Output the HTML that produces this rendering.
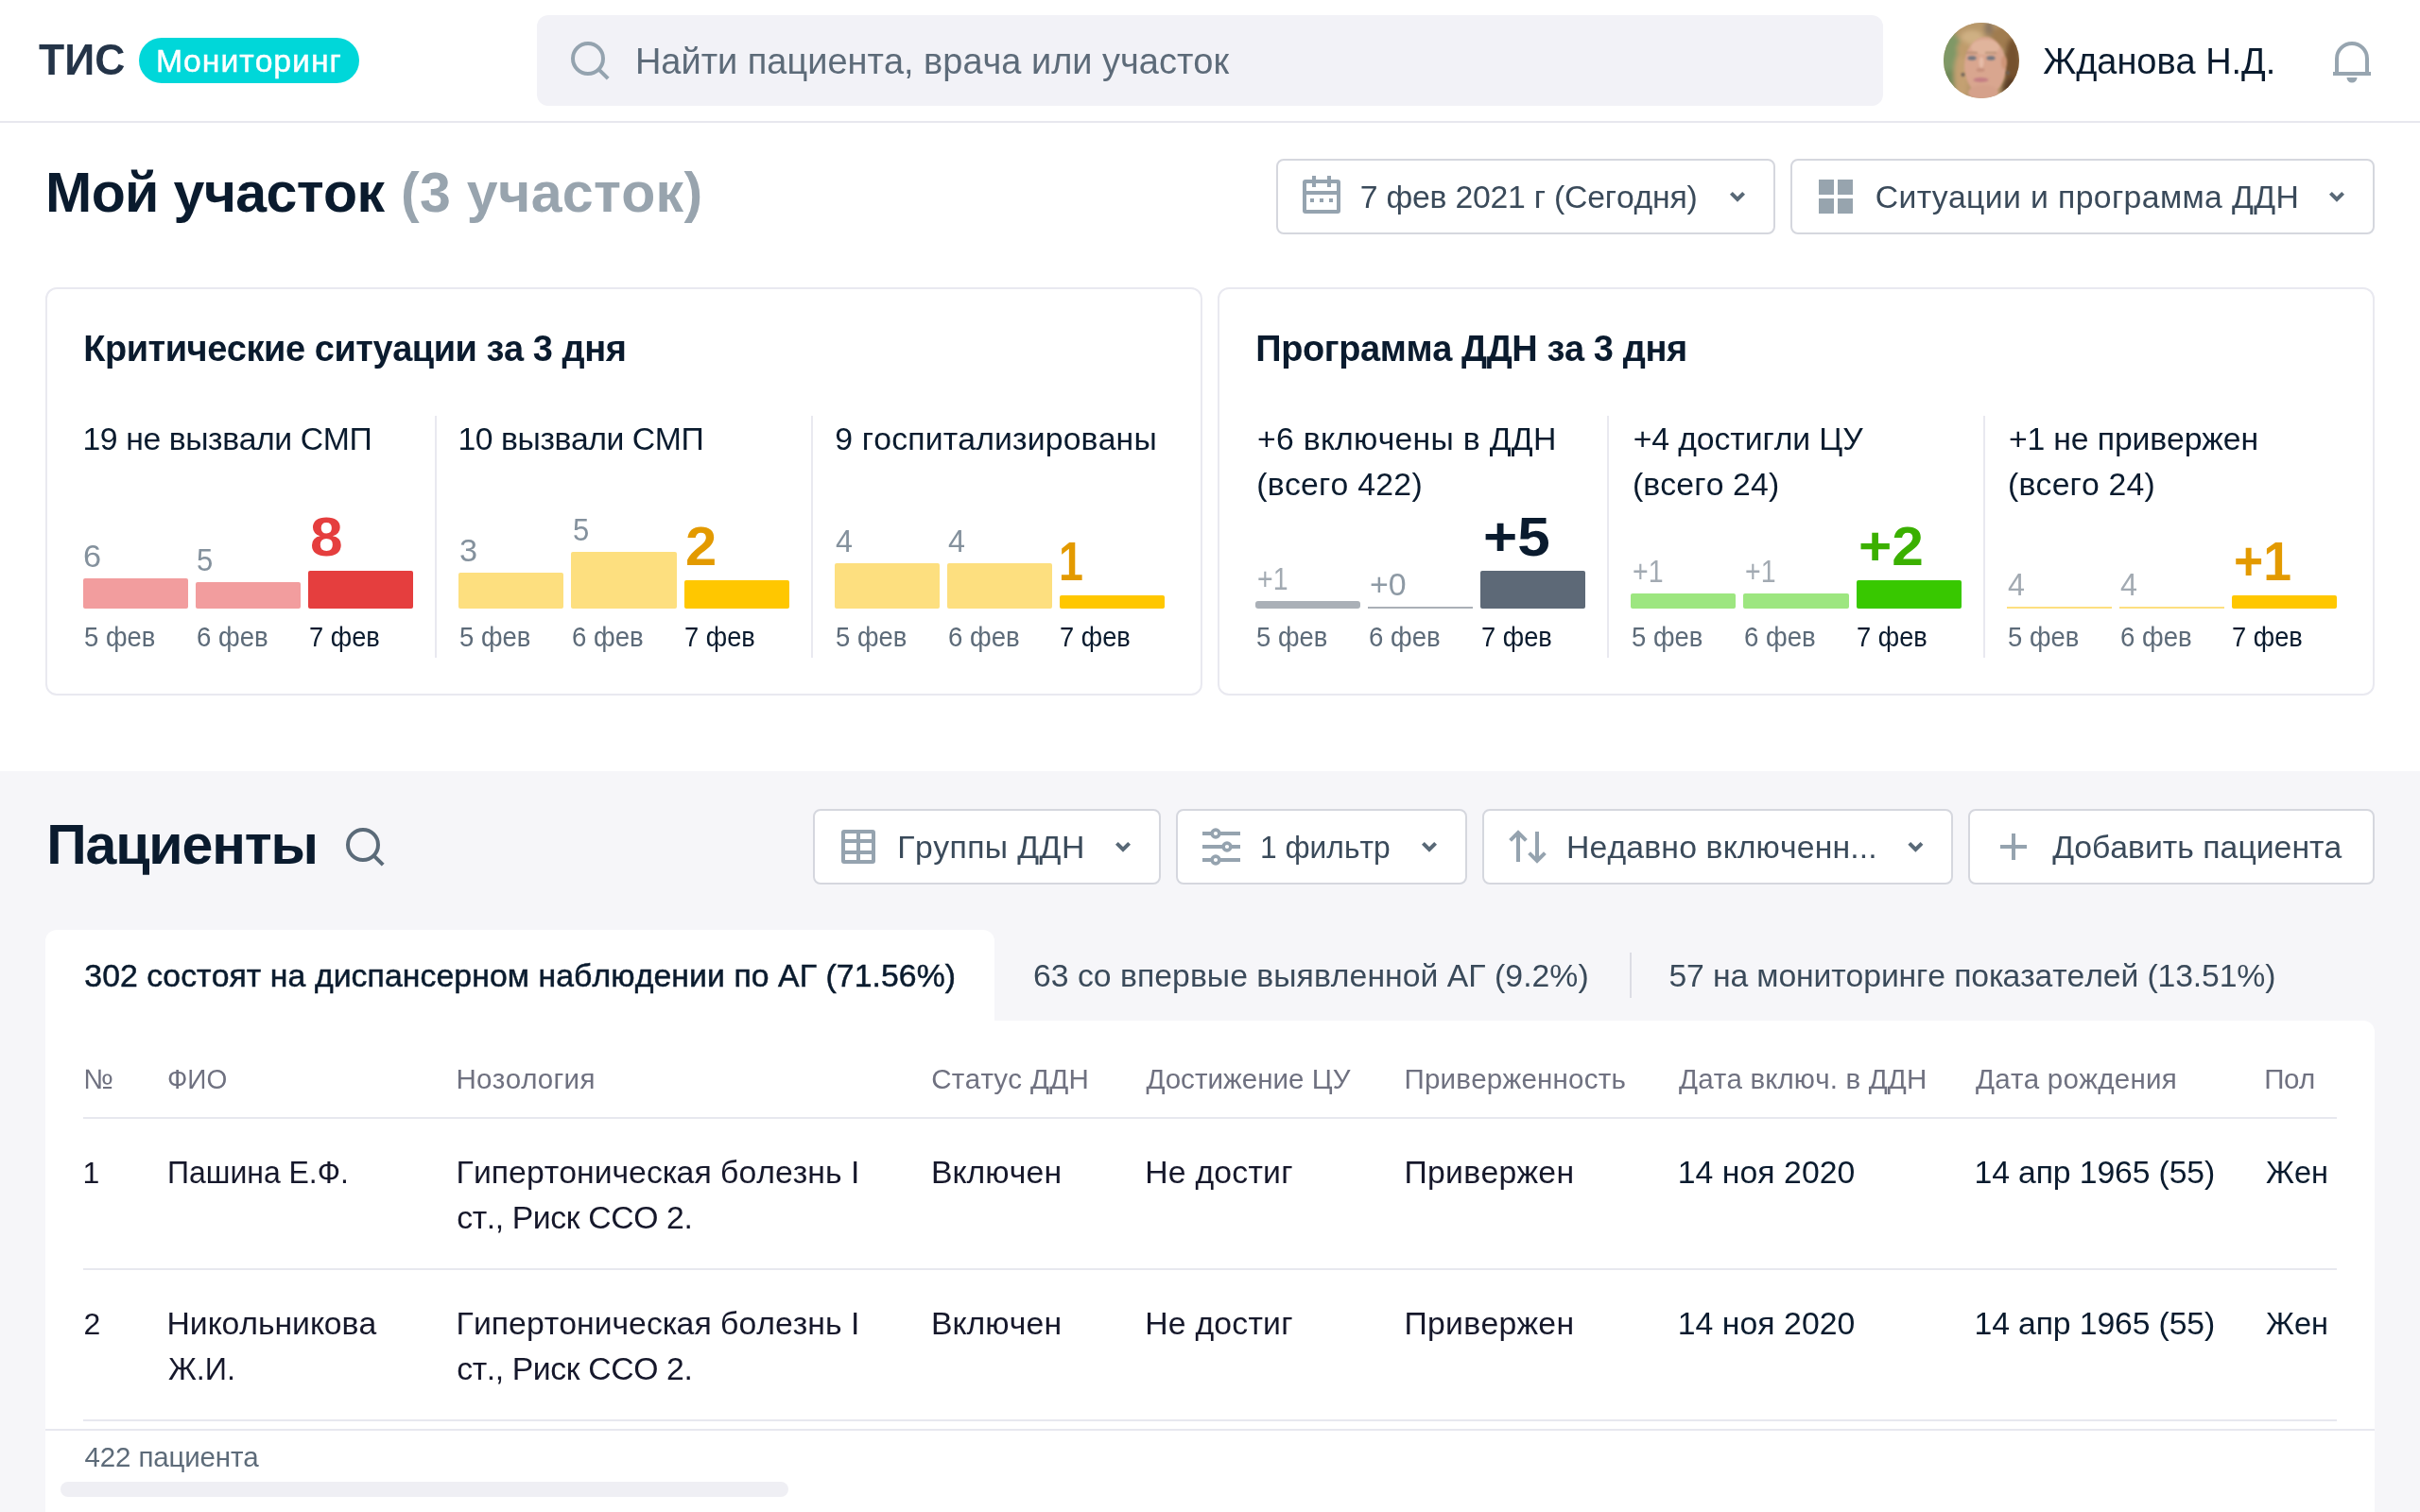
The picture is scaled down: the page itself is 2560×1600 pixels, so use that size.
<!DOCTYPE html>
<html lang="ru"><head><meta charset="utf-8"><title>ТИС Мониторинг</title>
<style>
html,body{margin:0;padding:0}
body{width:2560px;height:1600px;overflow:hidden;background:#fff;position:relative;font-family:"Liberation Sans",sans-serif;font-kerning:none}
div,span,svg{position:absolute}
span{white-space:nowrap;line-height:1}

</style></head><body>
<div style="left:0px;top:128px;width:2560px;height:2px;background:#e7e7ee"></div>
<div style="left:147px;top:40px;width:233px;height:48px;background:#00d7d9;border-radius:24px"></div>
<div style="left:568px;top:16px;width:1424px;height:96px;background:#f2f2f7;border-radius:12px"></div>
<div style="left:1350px;top:168px;width:528px;height:80px;background:#fff;border:2px solid #d5d7de;border-radius:8px;box-sizing:border-box"></div>
<div style="left:1894px;top:168px;width:618px;height:80px;background:#fff;border:2px solid #d5d7de;border-radius:8px;box-sizing:border-box"></div>
<div style="left:48px;top:304px;width:1224px;height:432px;background:#fff;border:2px solid #e9e9f0;border-radius:12px;box-sizing:border-box"></div>
<div style="left:1288px;top:304px;width:1224px;height:432px;background:#fff;border:2px solid #e9e9f0;border-radius:12px;box-sizing:border-box"></div>
<div style="left:88.0px;top:612px;width:111.11px;height:32px;background:#f29d9e;border-radius:2px"></div>
<div style="left:207.11px;top:616px;width:111.11px;height:28px;background:#f29d9e;border-radius:2px"></div>
<div style="left:326.22px;top:604px;width:111.11px;height:40px;background:#e53e3e;border-radius:2px"></div>
<div style="left:460px;top:440px;width:2px;height:256px;background:#e9e9f0"></div>
<div style="left:485.33px;top:606px;width:111.11px;height:38px;background:#fddf7f;border-radius:2px"></div>
<div style="left:604.44px;top:584px;width:111.11px;height:60px;background:#fddf7f;border-radius:2px"></div>
<div style="left:723.55px;top:614px;width:111.11px;height:30px;background:#ffc700;border-radius:2px"></div>
<div style="left:858px;top:440px;width:2px;height:256px;background:#e9e9f0"></div>
<div style="left:882.67px;top:596px;width:111.11px;height:48px;background:#fddf7f;border-radius:2px"></div>
<div style="left:1001.78px;top:596px;width:111.11px;height:48px;background:#fddf7f;border-radius:2px"></div>
<div style="left:1120.89px;top:630px;width:111.11px;height:14px;background:#ffc700;border-radius:2px"></div>
<div style="left:1328.0px;top:636px;width:111.11px;height:8px;background:#aab0b7;border-radius:3px"></div>
<div style="left:1447.11px;top:642px;width:111.11px;height:2px;background:#aab0b7;border-radius:0px"></div>
<div style="left:1566.22px;top:604px;width:111.11px;height:40px;background:#5d6977;border-radius:2px"></div>
<div style="left:1700px;top:440px;width:2px;height:256px;background:#e9e9f0"></div>
<div style="left:1725.33px;top:628px;width:111.11px;height:16px;background:#9de680;border-radius:2px"></div>
<div style="left:1844.44px;top:628px;width:111.11px;height:16px;background:#9de680;border-radius:2px"></div>
<div style="left:1963.55px;top:614px;width:111.11px;height:30px;background:#38c800;border-radius:2px"></div>
<div style="left:2098px;top:440px;width:2px;height:256px;background:#e9e9f0"></div>
<div style="left:2122.67px;top:642px;width:111.11px;height:2px;background:#fddf7f;border-radius:0px"></div>
<div style="left:2241.78px;top:642px;width:111.11px;height:2px;background:#fddf7f;border-radius:0px"></div>
<div style="left:2360.89px;top:630px;width:111.11px;height:14px;background:#ffc700;border-radius:2px"></div>
<div style="left:0px;top:816px;width:2560px;height:784px;background:#f6f6f9"></div>
<div style="left:860px;top:856px;width:368px;height:80px;background:#fff;border:2px solid #d5d7de;border-radius:8px;box-sizing:border-box"></div>
<div style="left:1244px;top:856px;width:308px;height:80px;background:#fff;border:2px solid #d5d7de;border-radius:8px;box-sizing:border-box"></div>
<div style="left:1568px;top:856px;width:498px;height:80px;background:#fff;border:2px solid #d5d7de;border-radius:8px;box-sizing:border-box"></div>
<div style="left:2082px;top:856px;width:430px;height:80px;background:#fff;border:2px solid #d5d7de;border-radius:8px;box-sizing:border-box"></div>
<div style="left:48px;top:984px;width:1004px;height:100px;background:#fff;border-radius:12px 12px 0 0"></div>
<div style="left:48px;top:1080px;width:2464px;height:520px;background:#fff;border-radius:0 12px 0 0"></div>
<div style="left:1724px;top:1008px;width:2px;height:48px;background:#dcdde4"></div>
<div style="left:88px;top:1182px;width:2384px;height:2px;background:#e7e8ef"></div>
<div style="left:88px;top:1342px;width:2384px;height:2px;background:#e7e8ef"></div>
<div style="left:88px;top:1502px;width:2384px;height:2px;background:#e7e8ef"></div>
<div style="left:48px;top:1512px;width:2464px;height:2px;background:#e7e8ef"></div>
<div style="left:64px;top:1568px;width:770px;height:16px;background:#efeff4;border-radius:8px"></div>
<svg width="2560" height="1600" viewBox="0 0 2560 1600" style="left:0;top:0" fill="none">
<defs>
<clipPath id="av"><circle cx="2096" cy="64" r="40"/></clipPath>
<filter id="bl" x="-30%" y="-30%" width="160%" height="160%"><feGaussianBlur stdDeviation="2.4"/></filter>
<filter id="bs" x="-30%" y="-30%" width="160%" height="160%"><feGaussianBlur stdDeviation="1.3"/></filter>
</defs>
<!-- header search -->
<g stroke="#94a3af" stroke-width="4">
<circle cx="622" cy="62" r="16"/><path d="M633.3 73.3L643.2 83.2"/>
</g>
<!-- avatar (abstract colour blobs) -->
<g clip-path="url(#av)">
<rect x="2056" y="24" width="80" height="80" fill="#b39468"/>
<g filter="url(#bl)">
<rect x="2048" y="30" width="26" height="66" fill="#7f9866"/>
<ellipse cx="2062" cy="86" rx="8" ry="12" fill="#6f8a5a"/>
<ellipse cx="2098" cy="34" rx="30" ry="15" fill="#b8986b"/>
<ellipse cx="2086" cy="40" rx="12" ry="8" fill="#cfb083"/>
<ellipse cx="2104" cy="30" rx="5" ry="8" fill="#8c7760"/>
<ellipse cx="2118" cy="40" rx="12" ry="12" fill="#a07c50"/>
<ellipse cx="2129" cy="72" rx="9" ry="32" fill="#74512f"/>
<ellipse cx="2126" cy="94" rx="8" ry="12" fill="#5a3d26"/>
<ellipse cx="2075" cy="80" rx="8" ry="26" fill="#c4a072"/>
<ellipse cx="2077" cy="52" rx="7" ry="9" fill="#bf9c6c"/>
</g>
<g filter="url(#bs)">
<ellipse cx="2100" cy="70" rx="22" ry="31" fill="#d9a68f"/>
<ellipse cx="2100" cy="50" rx="15" ry="8" fill="#e0b49c"/>
<ellipse cx="2098" cy="98" rx="16" ry="8" fill="#d5a18b"/>
<ellipse cx="2120" cy="66" rx="3" ry="7" fill="#cf9578"/>
</g>
<g filter="url(#bs)">
<ellipse cx="2086" cy="61.5" rx="4.5" ry="2.2" fill="#6f7480"/>
<ellipse cx="2106" cy="61.5" rx="4.5" ry="2.2" fill="#6f7480"/>
<rect x="2080" y="55" width="12" height="1.6" fill="#b08a70"/>
<rect x="2100" y="55" width="12" height="1.6" fill="#b08a70"/>
<ellipse cx="2095.5" cy="84.5" rx="8" ry="2.6" fill="#c47f84"/>
<ellipse cx="2095" cy="74" rx="4.5" ry="2" fill="#c7917d"/>
<ellipse cx="2096" cy="66" rx="2.5" ry="6" fill="#e6bca8"/>
<circle cx="2076.5" cy="79" r="2" fill="#6b6058"/>
<circle cx="2124" cy="77" r="2" fill="#6b6058"/>
</g>
</g>
<!-- bell -->
<g stroke="#97a5b0" stroke-width="4">
<path d="M2472 76V62a16 16 0 0 1 32 0V76"/><path d="M2468 78H2508"/>
</g>
<path d="M2482.5 82h11a5.5 5.5 0 0 1 -11 0z" fill="#97a5b0"/>
<!-- calendar -->
<g fill="#95a3af">
<rect x="1388" y="186" width="4" height="12"/><rect x="1404" y="186" width="4" height="12"/>
<rect x="1380" y="202" width="36" height="4"/>
<rect x="1386" y="210" width="4" height="4"/><rect x="1396" y="210" width="4" height="4"/><rect x="1406" y="210" width="4" height="4"/>
</g>
<rect x="1380" y="192" width="36" height="32" rx="1" stroke="#95a3af" stroke-width="4"/>
<!-- grid -->
<g fill="#97a4ae"><rect x="1924" y="190" width="16" height="16"/><rect x="1944" y="190" width="16" height="16"/><rect x="1924" y="210" width="16" height="16"/><rect x="1944" y="210" width="16" height="16"/></g>
<!-- chevrons -->
<g stroke="#596977" stroke-width="4">
<path d="M1831.4 204.4L1838 211L1844.6 204.4"/>
<path d="M2465.4 204.4L2472 211L2478.6 204.4"/>
<path d="M1181.4 892.4L1188 899L1194.6 892.4"/>
<path d="M1505.4 892.4L1512 899L1518.6 892.4"/>
<path d="M2019.8 892.4L2026.4 899L2033 892.4"/>
</g>
<!-- patients search -->
<g stroke="#5b6b79" stroke-width="4">
<circle cx="384" cy="894" r="16"/><path d="M395.3 905.3L405.2 915.2"/>
</g>
<!-- table icon -->
<rect x="892" y="880" width="32" height="32" rx="1" stroke="#95a3af" stroke-width="4"/>
<g fill="#95a3af"><rect x="906" y="880" width="4" height="32"/><rect x="892" y="888" width="32" height="4"/><rect x="892" y="900" width="32" height="4"/></g>
<!-- sliders -->
<g fill="#95a3af"><rect x="1272" y="880" width="40" height="4"/><rect x="1272" y="894" width="40" height="4"/><rect x="1272" y="908" width="40" height="4"/></g>
<g stroke="#95a3af" stroke-width="3.6" fill="#fff"><circle cx="1286" cy="882" r="3.9"/><circle cx="1298" cy="896" r="3.9"/><circle cx="1286" cy="910" r="3.9"/></g>
<!-- sort arrows -->
<g stroke="#95a3af" stroke-width="4">
<path d="M1606 912V881"/><path d="M1597.6 889.4L1606 881L1614.4 889.4"/>
<path d="M1626 880V911"/><path d="M1617.6 902.6L1626 911L1634.4 902.6"/>
</g>
<!-- plus -->
<g fill="#95a3af"><rect x="2116" y="894" width="28" height="4"/><rect x="2128" y="882" width="4" height="28"/></g>
</svg>

<div style="left:0;top:0;width:2560px;height:1600px;will-change:transform">
<span style="left:41.40px;top:40px;font-size:46.42px;color:#243448;font-weight:700;transform:scaleX(0.959);transform-origin:0 0">ТИС</span>
<span style="left:165.00px;top:48px;font-size:33.76px;color:#ffffff;-webkit-text-stroke:0.45px #ffffff;letter-spacing:0.960px">Мониторинг</span>
<span style="left:671.90px;top:46px;font-size:37.98px;color:#5d6b79">Найти пациента, врача или участок</span>
<span style="left:2161.20px;top:46px;font-size:37.98px;color:#0a1b2e;letter-spacing:-0.039px">Жданова Н.Д.</span>
<span style="left:48.10px;top:175px;font-size:59.08px;color:#0a1b2e;font-weight:700;letter-spacing:-0.652px">Мой участок</span>
<span style="left:424.00px;top:175px;font-size:59.08px;color:#98a4ae;font-weight:700;letter-spacing:0.310px">(3 участок)</span>
<span style="left:1438.70px;top:192px;font-size:33.76px;color:#3a4a5a;letter-spacing:-0.210px">7 фев 2021 г (Сегодня)</span>
<span style="left:1983.80px;top:192px;font-size:33.76px;color:#3a4a5a;letter-spacing:0.382px">Ситуации и программа ДДН</span>
<span style="left:88.20px;top:350px;font-size:37.98px;color:#0a1b2e;font-weight:700;letter-spacing:-0.447px">Критические ситуации за 3 дня</span>
<span style="left:1328.30px;top:350px;font-size:37.98px;color:#0a1b2e;font-weight:700;letter-spacing:-0.393px">Программа ДДН за 3 дня</span>
<span style="left:87.50px;top:448px;font-size:33.76px;color:#0a1b2e;letter-spacing:-0.411px">19 не вызвали СМП</span>
<span style="left:88.45px;top:573px;font-size:32.7px;color:#84919d;transform:scaleX(1.050);transform-origin:0 0">6</span>
<span style="left:88.97px;top:659px;font-size:29.54px;color:#5d6b79;transform:scaleX(0.929);transform-origin:0 0">5 фев</span>
<span style="left:208.46px;top:577px;font-size:32.7px;color:#84919d;transform:scaleX(0.950);transform-origin:0 0">5</span>
<span style="left:207.97px;top:659px;font-size:29.54px;color:#5d6b79;transform:scaleX(0.935);transform-origin:0 0">6 фев</span>
<span style="left:327.92px;top:541px;font-size:56.8px;color:#e53e3e;font-weight:700;transform:scaleX(1.097);transform-origin:0 0">8</span>
<span style="left:326.50px;top:659px;font-size:29.54px;color:#0a1b2e;transform:scaleX(0.923);transform-origin:0 0">7 фев</span>
<span style="left:484.50px;top:448px;font-size:33.76px;color:#0a1b2e;letter-spacing:-0.445px">10 вызвали СМП</span>
<span style="left:486.08px;top:567px;font-size:32.7px;color:#84919d;transform:scaleX(1.050);transform-origin:0 0">3</span>
<span style="left:486.30px;top:659px;font-size:29.54px;color:#5d6b79;transform:scaleX(0.929);transform-origin:0 0">5 фев</span>
<span style="left:605.79px;top:545px;font-size:32.7px;color:#84919d;transform:scaleX(0.950);transform-origin:0 0">5</span>
<span style="left:605.31px;top:659px;font-size:29.54px;color:#5d6b79;transform:scaleX(0.935);transform-origin:0 0">6 фев</span>
<span style="left:724.90px;top:551px;font-size:56.8px;color:#e39a00;font-weight:700;transform:scaleX(1.052);transform-origin:0 0">2</span>
<span style="left:723.83px;top:659px;font-size:29.54px;color:#0a1b2e;transform:scaleX(0.923);transform-origin:0 0">7 фев</span>
<span style="left:883.30px;top:448px;font-size:33.76px;color:#0a1b2e;letter-spacing:0.161px">9 госпитализированы</span>
<span style="left:883.67px;top:557px;font-size:32.7px;color:#84919d;transform:scaleX(0.989);transform-origin:0 0">4</span>
<span style="left:883.64px;top:659px;font-size:29.54px;color:#5d6b79;transform:scaleX(0.929);transform-origin:0 0">5 фев</span>
<span style="left:1002.78px;top:557px;font-size:32.7px;color:#84919d;transform:scaleX(0.989);transform-origin:0 0">4</span>
<span style="left:1002.64px;top:659px;font-size:29.54px;color:#5d6b79;transform:scaleX(0.935);transform-origin:0 0">6 фев</span>
<span style="left:1119.53px;top:567px;font-size:56.8px;color:#e39a00;font-weight:700;transform:scaleX(0.820);transform-origin:0 0">1</span>
<span style="left:1121.16px;top:659px;font-size:29.54px;color:#0a1b2e;transform:scaleX(0.923);transform-origin:0 0">7 фев</span>
<span style="left:1330.00px;top:448px;font-size:33.76px;color:#0a1b2e;letter-spacing:0.300px">+6 включены в ДДН</span>
<span style="left:1329.20px;top:496px;font-size:33.76px;color:#0a1b2e;letter-spacing:0.262px">(всего 422)</span>
<span style="left:1329.93px;top:597px;font-size:32.7px;color:#a2aab2;transform:scaleX(0.872);transform-origin:0 0">+1</span>
<span style="left:1328.97px;top:659px;font-size:29.54px;color:#5d6b79;transform:scaleX(0.929);transform-origin:0 0">5 фев</span>
<span style="left:1448.97px;top:603px;font-size:32.7px;color:#8e9aa5;transform:scaleX(1.037);transform-origin:0 0">+0</span>
<span style="left:1447.97px;top:659px;font-size:29.54px;color:#5d6b79;transform:scaleX(0.935);transform-origin:0 0">6 фев</span>
<span style="left:1569.04px;top:541px;font-size:56.8px;color:#0a1b2e;font-weight:700;transform:scaleX(1.092);transform-origin:0 0">+5</span>
<span style="left:1566.50px;top:659px;font-size:29.54px;color:#0a1b2e;transform:scaleX(0.923);transform-origin:0 0">7 фев</span>
<span style="left:1727.70px;top:448px;font-size:33.76px;color:#0a1b2e;letter-spacing:-0.093px">+4 достигли ЦУ</span>
<span style="left:1726.90px;top:496px;font-size:33.76px;color:#0a1b2e;letter-spacing:0.132px">(всего 24)</span>
<span style="left:1727.26px;top:589px;font-size:32.7px;color:#a2aab2;transform:scaleX(0.872);transform-origin:0 0">+1</span>
<span style="left:1726.30px;top:659px;font-size:29.54px;color:#5d6b79;transform:scaleX(0.929);transform-origin:0 0">5 фев</span>
<span style="left:1846.37px;top:589px;font-size:32.7px;color:#a2aab2;transform:scaleX(0.872);transform-origin:0 0">+1</span>
<span style="left:1845.31px;top:659px;font-size:29.54px;color:#5d6b79;transform:scaleX(0.935);transform-origin:0 0">6 фев</span>
<span style="left:1965.83px;top:551px;font-size:56.8px;color:#3bb000;font-weight:700;transform:scaleX(1.063);transform-origin:0 0">+2</span>
<span style="left:1963.83px;top:659px;font-size:29.54px;color:#0a1b2e;transform:scaleX(0.923);transform-origin:0 0">7 фев</span>
<span style="left:2124.90px;top:448px;font-size:33.76px;color:#0a1b2e;letter-spacing:-0.133px">+1 не привержен</span>
<span style="left:2124.10px;top:496px;font-size:33.76px;color:#0a1b2e;letter-spacing:0.165px">(всего 24)</span>
<span style="left:2123.67px;top:603px;font-size:32.7px;color:#a2aab2;transform:scaleX(0.989);transform-origin:0 0">4</span>
<span style="left:2123.64px;top:659px;font-size:29.54px;color:#5d6b79;transform:scaleX(0.929);transform-origin:0 0">5 фев</span>
<span style="left:2242.78px;top:603px;font-size:32.7px;color:#a2aab2;transform:scaleX(0.989);transform-origin:0 0">4</span>
<span style="left:2242.64px;top:659px;font-size:29.54px;color:#5d6b79;transform:scaleX(0.935);transform-origin:0 0">6 фев</span>
<span style="left:2363.10px;top:567px;font-size:56.8px;color:#e39a00;font-weight:700;transform:scaleX(0.943);transform-origin:0 0">+1</span>
<span style="left:2361.16px;top:659px;font-size:29.54px;color:#0a1b2e;transform:scaleX(0.923);transform-origin:0 0">7 фев</span>
<span style="left:49.20px;top:865px;font-size:59.08px;color:#0a1b2e;font-weight:700;letter-spacing:-1.161px">Пациенты</span>
<span style="left:949.30px;top:880px;font-size:33.76px;color:#3a4a5a;letter-spacing:0.420px">Группы ДДН</span>
<span style="left:1332.52px;top:880px;font-size:33.76px;color:#3a4a5a;transform:scaleX(0.941);transform-origin:0 0">1 фильтр</span>
<span style="left:1657.00px;top:880px;font-size:33.76px;color:#3a4a5a;letter-spacing:0.161px">Недавно включенн...</span>
<span style="left:2171.30px;top:880px;font-size:33.76px;color:#3a4a5a;letter-spacing:0.011px">Добавить пациента</span>
<span style="left:89.30px;top:1016px;font-size:33.76px;color:#0a1b2e;-webkit-text-stroke:0.5px #0a1b2e;letter-spacing:0.085px">302 состоят на диспансерном наблюдении по АГ (71.56%)</span>
<span style="left:1092.90px;top:1016px;font-size:33.76px;color:#3a4a5a;letter-spacing:0.031px">63 со впервые выявленной АГ (9.2%)</span>
<span style="left:1765.40px;top:1016px;font-size:33.76px;color:#3a4a5a;letter-spacing:-0.129px">57 на мониторинге показателей (13.51%)</span>
<span style="left:88.30px;top:1127px;font-size:29.54px;color:#6f7180">№</span>
<span style="left:176.65px;top:1127px;font-size:29.54px;color:#6f7180;transform:scaleX(0.949);transform-origin:0 0">ФИО</span>
<span style="left:482.50px;top:1127px;font-size:29.54px;color:#6f7180;letter-spacing:0.283px">Нозология</span>
<span style="left:985.20px;top:1127px;font-size:29.54px;color:#6f7180;letter-spacing:0.318px">Статус ДДН</span>
<span style="left:1212.60px;top:1127px;font-size:29.54px;color:#6f7180;letter-spacing:0.036px">Достижение ЦУ</span>
<span style="left:1485.50px;top:1127px;font-size:29.54px;color:#6f7180;letter-spacing:0.208px">Приверженность</span>
<span style="left:1776.10px;top:1127px;font-size:29.54px;color:#6f7180;letter-spacing:0.165px">Дата включ. в ДДН</span>
<span style="left:2090.00px;top:1127px;font-size:29.54px;color:#6f7180;letter-spacing:0.255px">Дата рождения</span>
<span style="left:2395.30px;top:1127px;font-size:29.54px;color:#6f7180;letter-spacing:-0.475px">Пол</span>
<span style="left:87.50px;top:1225px;font-size:32.0px;color:#16182b">1</span>
<span style="left:176.61px;top:1224px;font-size:33.76px;color:#16182b;transform:scaleX(0.947);transform-origin:0 0">Пашина Е.Ф.</span>
<span style="left:482.60px;top:1224px;font-size:33.76px;color:#16182b;letter-spacing:0.028px">Гипертоническая болезнь I</span>
<span style="left:483.20px;top:1272px;font-size:33.76px;color:#16182b;letter-spacing:-0.386px">ст., Риск ССО 2.</span>
<span style="left:984.90px;top:1224px;font-size:33.76px;color:#16182b;letter-spacing:0.144px">Включен</span>
<span style="left:1211.20px;top:1224px;font-size:33.76px;color:#16182b;letter-spacing:0.229px">Не достиг</span>
<span style="left:1485.50px;top:1224px;font-size:33.76px;color:#16182b;letter-spacing:0.275px">Привержен</span>
<span style="left:1774.70px;top:1224px;font-size:33.76px;color:#0a1b2e;letter-spacing:0.061px">14 ноя 2020</span>
<span style="left:2088.50px;top:1224px;font-size:33.76px;color:#0a1b2e;letter-spacing:-0.123px">14 апр 1965 (55)</span>
<span style="left:2397.30px;top:1224px;font-size:33.76px;color:#0a1b2e;transform:scaleX(0.962);transform-origin:0 0">Жен</span>
<span style="left:88.50px;top:1385px;font-size:32.0px;color:#16182b">2</span>
<span style="left:176.50px;top:1384px;font-size:33.76px;color:#16182b;letter-spacing:-0.009px">Никольникова</span>
<span style="left:177.60px;top:1432px;font-size:33.76px;color:#16182b;transform:scaleX(0.958);transform-origin:0 0">Ж.И.</span>
<span style="left:482.60px;top:1384px;font-size:33.76px;color:#16182b;letter-spacing:0.028px">Гипертоническая болезнь I</span>
<span style="left:483.20px;top:1432px;font-size:33.76px;color:#16182b;letter-spacing:-0.386px">ст., Риск ССО 2.</span>
<span style="left:984.90px;top:1384px;font-size:33.76px;color:#16182b;letter-spacing:0.144px">Включен</span>
<span style="left:1211.20px;top:1384px;font-size:33.76px;color:#16182b;letter-spacing:0.229px">Не достиг</span>
<span style="left:1485.50px;top:1384px;font-size:33.76px;color:#16182b;letter-spacing:0.275px">Привержен</span>
<span style="left:1774.70px;top:1384px;font-size:33.76px;color:#0a1b2e;letter-spacing:0.061px">14 ноя 2020</span>
<span style="left:2088.50px;top:1384px;font-size:33.76px;color:#0a1b2e;letter-spacing:-0.123px">14 апр 1965 (55)</span>
<span style="left:2397.30px;top:1384px;font-size:33.76px;color:#0a1b2e;transform:scaleX(0.962);transform-origin:0 0">Жен</span>
<span style="left:89.60px;top:1527px;font-size:29.54px;color:#5d6b79;letter-spacing:-0.169px">422 пациента</span>
</div>
</body></html>
